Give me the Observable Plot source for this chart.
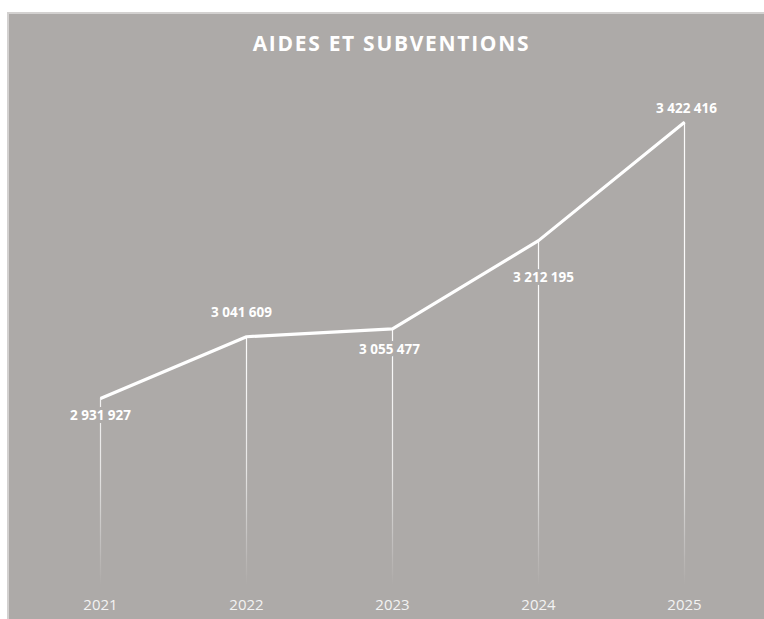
<!DOCTYPE html>
<html>
<head>
<meta charset="utf-8">
<script src="https://cdn.jsdelivr.net/npm/d3@7"></script>
<script src="https://cdn.jsdelivr.net/npm/@observablehq/plot@0.6"></script>
<style>
  html, body { margin: 0; padding: 0; background: #ffffff; }
  #frame {
    position: absolute; left: 7px; top: 12px; width: 757px; height: 607px;
    box-sizing: border-box; background: #adaaa8;
    border-left: 2px solid #d3d1d0; border-top: 2px solid #d3d1d0;
    overflow: hidden;
  }
  #title {
    height: 58px; line-height: 58px; text-align: center;
    font-family: "Open Sans", sans-serif; font-weight: 700; font-size: 21px;
    letter-spacing: 1.7px; color: #ffffff; padding-left: 10px;
  }
  #chart svg { display: block; }
</style>
</head>
<body>
<div id="frame">
  <div id="title">AIDES ET SUBVENTIONS</div>
  <div id="chart"></div>
</div>
<script>
const years = ["2021", "2022", "2023", "2024", "2025"];
const values = [2931927, 3041609, 3055477, 3212195, 3422416];
const valueLabels = ["2 931 927", "3 041 609", "3 055 477", "3 212 195", "3 422 416"];

const data = years.map((y, i) => ({year: y, value: values[i], label: valueLabels[i], i}));
const bg = "#adaaa8";
// label placement relative to the point (above / below)
const labelDy = [17, -24, 21, 37, -14];
const labelDx = [0, -5, -3, 5, 2];

const plot = Plot.plot({
  width: 755,
  height: 547,
  margin: 0,
  style: {background: "transparent", overflow: "visible"},
  x: {type: "point", domain: years, range: [91, 675], padding: 0, axis: null},
  y: {domain: [2600000, 3500000], range: [513, 6], axis: null},
  marks: [
    Plot.ruleX(data, {x: "year", y1: 2600000, y2: "value", stroke: "#ffffff", strokeWidth: 1.2, className: "drop"}),
    Plot.line(data, {x: "year", y: "value", stroke: "#ffffff", strokeWidth: 3.2, strokeLinejoin: "miter", strokeLinecap: "butt"}),
    ...data.map(d => Plot.text([d], {
      x: "year", y: "value", text: "label",
      dy: labelDy[d.i], dx: labelDx[d.i],
      fill: "#ffffff", stroke: bg, strokeWidth: 6, paintOrder: "stroke",
      fontFamily: "Open Sans", fontWeight: 700, fontSize: 13.5
    })),
    Plot.text(data, {
      x: "year", y: 2600000, text: "year", dy: 20,
      fill: "#f3f3f3", fontFamily: "Open Sans", fontSize: 15
    })
  ]
});

document.getElementById("chart").appendChild(plot);

// fading gradient for the drop lines
const svg = d3.select(plot);
const defs = svg.insert("defs", ":first-child");
const g = defs.append("linearGradient")
  .attr("id", "fade").attr("gradientUnits", "userSpaceOnUse")
  .attr("x1", 0).attr("x2", 0).attr("y1", 280).attr("y2", 513);
g.append("stop").attr("offset", 0).attr("stop-color", "#ffffff").attr("stop-opacity", 0.95);
g.append("stop").attr("offset", 0.5).attr("stop-color", "#ffffff").attr("stop-opacity", 0.7);
g.append("stop").attr("offset", 1).attr("stop-color", "#ffffff").attr("stop-opacity", 0);
svg.selectAll(".drop line").attr("stroke", "url(#fade)");
svg.selectAll(".drop").attr("stroke", "url(#fade)");
</script>
</body>
</html>
